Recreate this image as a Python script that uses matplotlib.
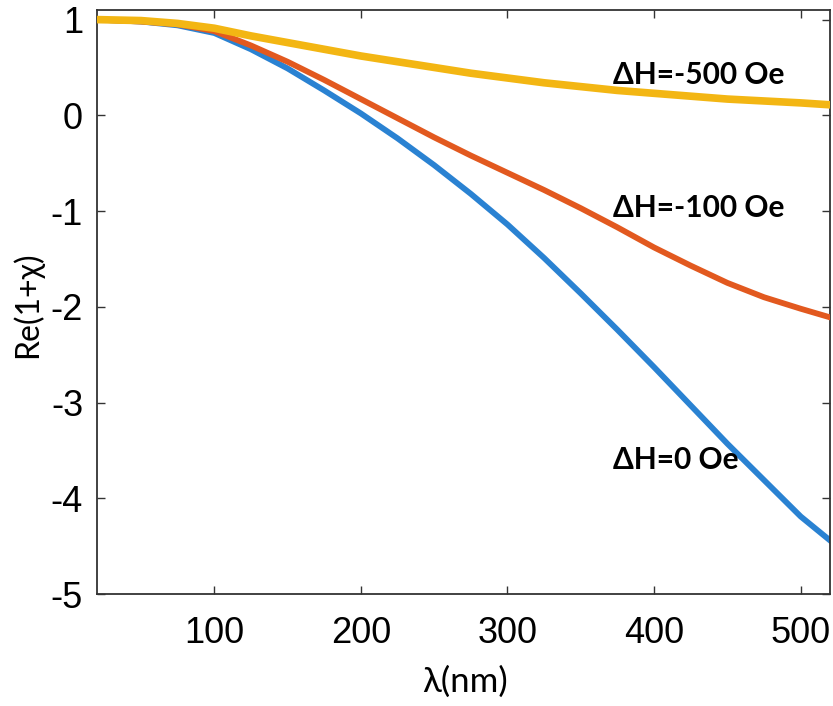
import matplotlib
matplotlib.use("Agg")
import matplotlib.pyplot as plt

# wavelength (nm)
lam = [20, 50, 75, 100, 125, 150, 175, 200, 225, 250, 275, 300, 325, 350, 375, 400, 425, 450, 475, 500, 520]
# Re(1+chi) for each field offset
re_dh0 = [1.00, 0.98, 0.94, 0.86, 0.69, 0.49, 0.26, 0.02, -0.24, -0.52, -0.82, -1.14, -1.49, -1.86, -2.24, -2.63, -3.03, -3.43, -3.81, -4.19, -4.44]
re_dh100 = [1.00, 0.98, 0.95, 0.88, 0.73, 0.56, 0.37, 0.17, -0.03, -0.23, -0.42, -0.60, -0.78, -0.97, -1.17, -1.38, -1.57, -1.75, -1.90, -2.02, -2.11]
re_dh500 = [1.00, 0.99, 0.96, 0.91, 0.83, 0.76, 0.69, 0.62, 0.56, 0.50, 0.44, 0.39, 0.34, 0.30, 0.26, 0.23, 0.20, 0.17, 0.15, 0.13, 0.11]

labels = ["ΔH=0 Oe", "ΔH=-100 Oe", "ΔH=-500 Oe"]
label_pos = [(372, -3.60), (372, -0.97), (372, 0.42)]
xticks = [100, 200, 300, 400, 500]
yticks = [-5, -4, -3, -2, -1, 0, 1]

fig = plt.figure(figsize=(8.33, 7.06), dpi=100)
ax = fig.add_axes([0.1164, 0.1586, 0.8800, 0.8272])

ax.plot(lam, re_dh0, color="#2a82d2", lw=4.2, solid_joinstyle="round", zorder=2)
ax.plot(lam, re_dh100, color="#e2591f", lw=4.2, solid_joinstyle="round", zorder=3)
ax.plot(lam, re_dh500, color="#f3b613", lw=5.5, solid_joinstyle="round", zorder=4)

for txt, (x, y) in zip(labels, label_pos):
    ax.text(x, y, txt, fontsize=21.5, fontweight="bold", family="Lato",
            ha="left", va="center", color="black", zorder=5)

ax.set_xlim(20, 520)
ax.set_ylim(-5, 1.1)
ax.set_xticks(xticks)
ax.set_yticks(yticks)
ax.set_xticklabels([str(t) for t in xticks], family="Liberation Sans", fontsize=26)
ax.set_yticklabels([str(t) for t in yticks], family="Liberation Sans", fontsize=26)
ax.tick_params(axis="both", direction="in", length=6, width=1.0, color="#333333",
               top=True, right=True)
ax.tick_params(axis="x", pad=16)
ax.tick_params(axis="y", pad=10)
for s in ax.spines.values():
    s.set_linewidth(1.3)
    s.set_color("#333333")

ax.set_xlabel("λ(nm)", family="Lato", fontsize=25)
ax.set_ylabel("Re(1+χ)", family="Lato", fontsize=23)
ax.xaxis.set_label_coords(0.502, -0.122)
ax.yaxis.set_label_coords(-0.074, 0.495)

fig.savefig("out.png", dpi=100)
